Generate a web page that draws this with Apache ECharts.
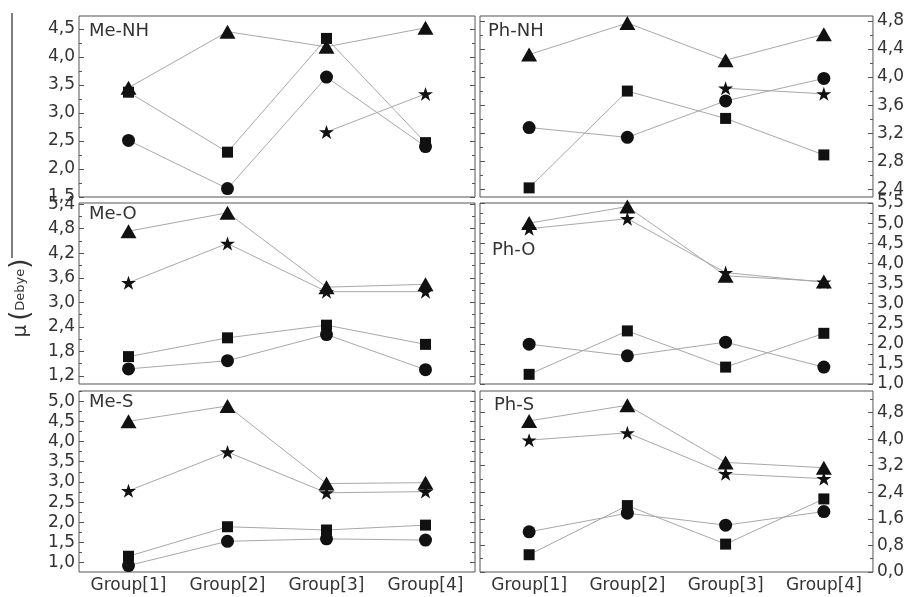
<!DOCTYPE html>
<html><head><meta charset="utf-8">
<script src="https://cdn.jsdelivr.net/npm/echarts@6/dist/echarts.min.js"></script>
<style>html,body{margin:0;padding:0;background:#fff}#c{width:907px;height:597px}</style>
</head><body><div id="c"></div>
<script>
const categories = ['Group[1]','Group[2]','Group[3]','Group[4]'];

// Me-NH
const meNH_triangle = [3.45, 4.45, 4.18, 4.52];
const meNH_square   = [3.37, 2.30, 4.33, 2.47];
const meNH_circle   = [2.51, 1.65, 3.64, 2.40];
const meNH_star     = [null, null, 2.66, 3.34];
const meNH_ticks    = [1.5, 2.0, 2.5, 3.0, 3.5, 4.0, 4.5];
const meNH_range    = [1.5, 4.73];
// Ph-NH
const phNH_triangle = [4.32, 4.77, 4.24, 4.61];
const phNH_square   = [2.42, 3.80, 3.41, 2.89];
const phNH_circle   = [3.28, 3.14, 3.66, 3.98];
const phNH_star     = [null, null, 3.84, 3.76];
const phNH_ticks    = [2.4, 2.8, 3.2, 3.6, 4.0, 4.4, 4.8];
const phNH_range    = [2.29, 4.87];
// Me-O
const meO_triangle = [4.74, 5.19, 3.37, 3.44];
const meO_square   = [1.67, 2.13, 2.44, 1.97];
const meO_circle   = [1.37, 1.57, 2.21, 1.35];
const meO_star     = [3.48, 4.44, 3.26, 3.26];
const meO_ticks    = [1.2, 1.8, 2.4, 3.0, 3.6, 4.2, 4.8, 5.4];
const meO_range    = [1.0, 5.43];
// Ph-O
const phO_triangle = [5.00, 5.41, 3.69, 3.55];
const phO_square   = [1.24, 2.32, 1.42, 2.26];
const phO_circle   = [1.99, 1.70, 2.04, 1.42];
const phO_star     = [4.86, 5.11, 3.77, 3.53];
const phO_ticks    = [1.0, 1.5, 2.0, 2.5, 3.0, 3.5, 4.0, 4.5, 5.0, 5.5];
const phO_range    = [1.0, 5.5];
// Me-S
const meS_triangle = [4.50, 4.88, 2.96, 2.98];
const meS_square   = [1.16, 1.89, 1.81, 1.93];
const meS_circle   = [0.93, 1.53, 1.59, 1.56];
const meS_star     = [2.78, 3.74, 2.73, 2.76];
const meS_ticks    = [1.0, 1.5, 2.0, 2.5, 3.0, 3.5, 4.0, 4.5, 5.0];
const meS_range    = [0.77, 5.25];
// Ph-S
const phS_triangle = [4.55, 5.02, 3.30, 3.14];
const phS_square   = [0.52, 2.00, 0.84, 2.20];
const phS_circle   = [1.21, 1.77, 1.41, 1.82];
const phS_star     = [3.97, 4.19, 2.96, 2.81];
const phS_ticks    = [0.0, 0.8, 1.6, 2.4, 3.2, 4.0, 4.8];
const phS_range    = [0.0, 5.45];

const panels = [
  {name:'Me-NH', col:0, row:0, tri:meNH_triangle, sq:meNH_square, ci:meNH_circle, st:meNH_star, ticks:meNH_ticks, range:meNH_range, tx:89, ty:31},
  {name:'Ph-NH', col:1, row:0, tri:phNH_triangle, sq:phNH_square, ci:phNH_circle, st:phNH_star, ticks:phNH_ticks, range:phNH_range, tx:488, ty:31},
  {name:'Me-O',  col:0, row:1, tri:meO_triangle, sq:meO_square, ci:meO_circle, st:meO_star, ticks:meO_ticks, range:meO_range, tx:89, ty:214},
  {name:'Ph-O',  col:1, row:1, tri:phO_triangle, sq:phO_square, ci:phO_circle, st:phO_star, ticks:phO_ticks, range:phO_range, tx:492, ty:250},
  {name:'Me-S',  col:0, row:2, tri:meS_triangle, sq:meS_square, ci:meS_circle, st:meS_star, ticks:meS_ticks, range:meS_range, tx:89, ty:402},
  {name:'Ph-S',  col:1, row:2, tri:phS_triangle, sq:phS_square, ci:phS_circle, st:phS_star, ticks:phS_ticks, range:phS_range, tx:494, ty:405}
];

const rows = [{top:16,height:181},{top:203,height:181},{top:391,height:181}];
const cols = [{left:79,width:396},{left:480,width:396}];
const FONT = 'DejaVu Sans';
const TXT = '#333';
const starPath = 'path://M50,0 L61.8,36.2 L100,36.2 L69.1,58.6 L80.9,95.1 L50,72.7 L19.1,95.1 L30.9,58.6 L0,36.2 L38.2,36.2 Z';
const fmt = v => Number(v).toFixed(1).replace('.', ',');

const grids = [], xAxes = [], yAxes = [], series = [], graphics = [];

panels.forEach((p, gi) => {
  grids.push({left:cols[p.col].left, top:rows[p.row].top, width:cols[p.col].width, height:rows[p.row].height,
    show:true, borderColor:'#555', borderWidth:1, backgroundColor:'transparent'});
  xAxes.push({type:'category', gridIndex:gi, data:categories, boundaryGap:true,
    axisLine:{show:false}, axisTick:{show:false}, splitLine:{show:false},
    axisLabel:{show:p.row===2, interval:0, hideOverlap:false, fontSize:17, color:TXT, fontFamily:FONT, margin:5}});
  const step = p.ticks[1]-p.ticks[0];
  const minor = [];
  for (let v = p.ticks[0]-step/2; v <= p.range[1]+1e-9; v += step) {
    if (v >= p.range[0]-1e-9) minor.push(+v.toFixed(4));
  }
  const labelSide = p.col===0 ? 'left' : 'right';
  const otherSide = p.col===0 ? 'right' : 'left';
  const base = {type:'value', gridIndex:gi, min:p.range[0], max:p.range[1],
    axisLine:{show:false}, splitLine:{show:false}};
  const yi = yAxes.length;
  yAxes.push(Object.assign({}, base, {position:labelSide,
    axisTick:{show:true, inside:true, length:5, lineStyle:{color:'#555'}, customValues:p.ticks},
    axisLabel:{show:true, customValues:p.ticks, formatter:fmt, fontSize:17, color:TXT, fontFamily:FONT, margin:4}}));
  yAxes.push(Object.assign({}, base, {position:otherSide,
    axisTick:{show:true, inside:true, length:5, lineStyle:{color:'#555'}, customValues:p.ticks},
    axisLabel:{show:false}}));
  yAxes.push(Object.assign({}, base, {position:labelSide,
    axisTick:{show:true, inside:true, length:3, lineStyle:{color:'#555'}, customValues:minor},
    axisLabel:{show:false}}));
  yAxes.push(Object.assign({}, base, {position:otherSide,
    axisTick:{show:true, inside:true, length:3, lineStyle:{color:'#555'}, customValues:minor},
    axisLabel:{show:false}}));

  const sets = [
    {d:p.tri, sym:'triangle', size:[16,14]},
    {d:p.sq, sym:'rect', size:11},
    {d:p.ci, sym:'circle', size:13},
    {d:p.st, sym:starPath, size:[15,14]}
  ];
  sets.forEach(s => {
    series.push({type:'line', xAxisIndex:gi, yAxisIndex:yi, data:s.d, symbol:'none', connectNulls:false,
      lineStyle:{color:'#a8a8a8', width:1}, z:2, silent:true, animation:false});
  });
  sets.forEach(s => {
    series.push({type:'scatter', xAxisIndex:gi, yAxisIndex:yi, data:s.d, symbol:s.sym, symbolSize:s.size,
      itemStyle:{color:'#111', opacity:1}, z:5, silent:true, animation:false});
  });
  graphics.push({type:'text', x:p.tx, y:p.ty, style:{text:p.name, fontSize:18, fontFamily:FONT, fill:TXT, verticalAlign:'middle', align:'left'}, z:10});
});

graphics.push({type:'line', shape:{x1:12, y1:13, x2:12, y2:258}, style:{stroke:'#555', lineWidth:1.5}});
graphics.push({type:'text', x:21, y:298, rotation:Math.PI/2,
  style:{text:'{m|μ} {p|(}{d|Debye}{p|)}', align:'center', verticalAlign:'middle', fill:TXT, fontFamily:FONT,
    rich:{m:{fontSize:20, fontFamily:FONT, fill:TXT}, p:{fontSize:26, fontFamily:FONT, fill:TXT}, d:{fontSize:13, fontFamily:FONT, fill:TXT}}}});

const chart = echarts.init(document.getElementById('c'), null, {renderer:'canvas'});
chart.setOption({animation:false, backgroundColor:'#fff', grid:grids, xAxis:xAxes, yAxis:yAxes, series:series, graphic:graphics});
</script>
</body></html>
